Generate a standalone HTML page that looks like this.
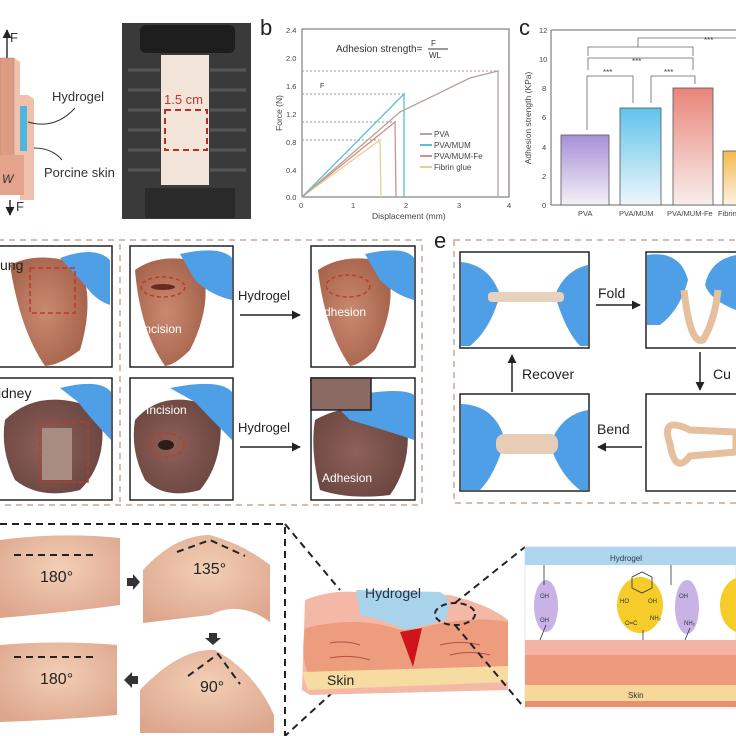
<!DOCTYPE html>
<html><head><meta charset="utf-8"><style>
html,body{margin:0;padding:0;background:#fff}
svg{display:block}
text{font-family:"Liberation Sans",Arial,sans-serif}
</style></head><body>
<svg width="736" height="736" viewBox="0 0 736 736" xmlns="http://www.w3.org/2000/svg">
<defs>
<linearGradient id="gp" x1="0" y1="0" x2="0" y2="1"><stop offset="0" stop-color="#a88fd6"/><stop offset="1" stop-color="#f3f0f6"/></linearGradient>
<linearGradient id="gb" x1="0" y1="0" x2="0" y2="1"><stop offset="0" stop-color="#5fc3ec"/><stop offset="1" stop-color="#eef6fa"/></linearGradient>
<linearGradient id="gr" x1="0" y1="0" x2="0" y2="1"><stop offset="0" stop-color="#e9857a"/><stop offset="1" stop-color="#f8eeec"/></linearGradient>
<linearGradient id="gy" x1="0" y1="0" x2="0" y2="1"><stop offset="0" stop-color="#f4b94e"/><stop offset="1" stop-color="#fbf3e4"/></linearGradient>
<radialGradient id="lung" cx="0.45" cy="0.5" r="0.6"><stop offset="0" stop-color="#c98a70"/><stop offset="1" stop-color="#a5614a"/></radialGradient>
<radialGradient id="kid" cx="0.45" cy="0.5" r="0.6"><stop offset="0" stop-color="#8e6158"/><stop offset="1" stop-color="#6a4540"/></radialGradient>
<radialGradient id="fing" cx="0.5" cy="0.4" r="0.7"><stop offset="0" stop-color="#f2cfb5"/><stop offset="1" stop-color="#dca58c"/></radialGradient>
<marker id="ah" viewBox="0 0 10 10" refX="9" refY="5" markerWidth="6" markerHeight="6" orient="auto"><path d="M0,0 L10,5 L0,10 z" fill="#222"/></marker>
</defs>

<!-- ===== a: schematic ===== -->
<line x1="7" y1="60" x2="7" y2="30" stroke="#333" stroke-width="1.5" marker-end="url(#ah)"/>
<text x="10" y="42" font-size="13" fill="#333">F</text>
<polygon points="0,58 14,58 20,62 20,160 0,160" fill="#e2a48b"/>
<polygon points="14,58 20,62 20,160 14,158" fill="#f0c2ad"/>
<rect x="0" y="58" width="14" height="100" fill="#dc9c84" stroke="#b77a66" stroke-width="0.5"/>
<polygon points="20,95 28,95 34,99 34,200 20,200" fill="#efc0ac"/>
<rect x="20" y="106" width="7" height="45" fill="#4fb5dd"/>
<rect x="0" y="155" width="24" height="40" fill="#e3a48b"/>
<text x="2" y="183" font-size="12" font-style="italic" fill="#333">W</text>
<line x1="10" y1="200" x2="10" y2="215" stroke="#333" stroke-width="1.5" marker-end="url(#ah)"/>
<text x="16" y="211" font-size="13" fill="#333">F</text>
<text x="52" y="101" font-size="13" fill="#333">Hydrogel</text>
<path d="M28,122 Q55,130 75,108" fill="none" stroke="#333" stroke-width="1"/>
<text x="44" y="177" font-size="13" fill="#333">Porcine skin</text>
<path d="M34,148 Q52,148 62,160" fill="none" stroke="#333" stroke-width="1"/>

<!-- photo -->
<rect x="122" y="23" width="129" height="196" fill="#3a3a3a"/>
<rect x="140" y="25" width="95" height="28" rx="6" fill="#1e1e1e"/>
<g stroke="#555" stroke-width="3">
<line x1="128" y1="70" x2="160" y2="70"/><line x1="128" y1="90" x2="160" y2="90"/><line x1="128" y1="110" x2="160" y2="110"/><line x1="128" y1="130" x2="160" y2="130"/><line x1="128" y1="150" x2="160" y2="150"/><line x1="128" y1="170" x2="160" y2="170"/>
<line x1="210" y1="70" x2="246" y2="70"/><line x1="210" y1="90" x2="246" y2="90"/><line x1="210" y1="110" x2="246" y2="110"/><line x1="210" y1="130" x2="246" y2="130"/><line x1="210" y1="150" x2="246" y2="150"/><line x1="210" y1="170" x2="246" y2="170"/>
</g>
<rect x="161" y="55" width="48" height="130" fill="#f3e4da"/>
<rect x="145" y="188" width="90" height="30" fill="#2a2a2a"/>
<rect x="165" y="110" width="42" height="40" fill="none" stroke="#b3302a" stroke-width="2" stroke-dasharray="6,4"/>
<text x="164" y="104" font-size="13" fill="#c0392b">1.5 cm</text>

<!-- ===== b chart ===== -->
<text x="260" y="35" font-size="22" fill="#222">b</text>
<rect x="302" y="29" width="207" height="168" fill="none" stroke="#666" stroke-width="1"/>
<g font-size="7.5" fill="#444">
<text x="286" y="33">2.4</text><text x="286" y="61">2.0</text><text x="286" y="89">1.6</text><text x="286" y="117">1.2</text><text x="286" y="145">0.8</text><text x="286" y="173">0.4</text><text x="286" y="200">0.0</text>
<text x="299" y="208">0</text><text x="351" y="208">1</text><text x="404" y="208">2</text><text x="457" y="208">3</text><text x="507" y="208">4</text>
</g>
<text transform="translate(282,113) rotate(-90)" text-anchor="middle" font-size="8.5" fill="#444">Force (N)</text>
<text x="372" y="219" font-size="8.5" fill="#444">Displacement (mm)</text>
<text x="336" y="52" font-size="10" fill="#333">Adhesion strength=</text>
<text x="431" y="46" font-size="8" fill="#333">F</text><line x1="428" y1="49" x2="448" y2="49" stroke="#333"/><text x="429" y="58" font-size="8" fill="#333">WL</text>
<text x="320" y="88" font-size="7" fill="#333">F</text>
<g stroke="#999" stroke-dasharray="2,2" stroke-width="1">
<line x1="302" y1="71" x2="498" y2="71"/><line x1="302" y1="94" x2="404" y2="94"/><line x1="302" y1="122" x2="396" y2="122"/><line x1="302" y1="140" x2="380" y2="140"/>
</g>
<polyline points="302,197 404,94 404,197" fill="none" stroke="#5bc0cf" stroke-width="1.3"/>
<polyline points="302,197 395,122 396,197" fill="none" stroke="#d48d8a" stroke-width="1.3"/>
<polyline points="302,197 380,140 381,197" fill="none" stroke="#e6cf94" stroke-width="1.3"/>
<polyline points="302,197 400,112 470,78 498,71 498,197" fill="none" stroke="#b7a19c" stroke-width="1.3"/>
<g font-size="8" fill="#444">
<line x1="420" y1="134" x2="432" y2="134" stroke="#b7a19c" stroke-width="2"/><text x="434" y="137">PVA</text>
<line x1="420" y1="145" x2="432" y2="145" stroke="#5bc0cf" stroke-width="2"/><text x="434" y="148">PVA/MUM</text>
<line x1="420" y1="156" x2="432" y2="156" stroke="#d48d8a" stroke-width="2"/><text x="434" y="159">PVA/MUM-Fe</text>
<line x1="420" y1="167" x2="432" y2="167" stroke="#e6cf94" stroke-width="2"/><text x="434" y="170">Fibrin glue</text>
</g>

<!-- ===== c chart ===== -->
<text x="519" y="35" font-size="22" fill="#222">c</text>
<line x1="551" y1="30" x2="551" y2="205" stroke="#666"/><line x1="551" y1="205" x2="736" y2="205" stroke="#666"/><line x1="551" y1="30" x2="736" y2="30" stroke="#666"/>
<g font-size="7.5" fill="#444">
<text x="539" y="33">12</text><text x="539" y="62">10</text><text x="542" y="91">8</text><text x="542" y="120">6</text><text x="542" y="150">4</text><text x="542" y="179">2</text><text x="542" y="208">0</text>
<text x="578" y="216">PVA</text><text x="619" y="216">PVA/MUM</text><text x="667" y="216">PVA/MUM-Fe</text><text x="718" y="216">Fibrin</text>
</g>
<text transform="translate(531,118) rotate(-90)" text-anchor="middle" font-size="8.5" fill="#444">Adhesion strength (KPa)</text>
<rect x="561" y="135" width="48" height="70" fill="url(#gp)" stroke="#555" stroke-width="0.8"/>
<rect x="620" y="108" width="41" height="97" fill="url(#gb)" stroke="#555" stroke-width="0.8"/>
<rect x="673" y="88" width="40" height="117" fill="url(#gr)" stroke="#555" stroke-width="0.8"/>
<rect x="723" y="151" width="20" height="54" fill="url(#gy)" stroke="#555" stroke-width="0.8"/>
<g fill="none" stroke="#666" stroke-width="0.8">
<polyline points="587,130 587,76 633,76 633,103"/>
<polyline points="651,103 651,76 695,76 695,84"/>
<polyline points="588,70 588,58 693,58 693,70"/>
<polyline points="588,56 588,47 693,47 693,56"/>
<polyline points="638,47 638,38 736,38"/>
</g>
<g font-size="8" fill="#444"><text x="603" y="75">***</text><text x="664" y="75">***</text><text x="632" y="64">***</text><text x="704" y="43">***</text></g>

<!-- ===== d panel ===== -->
<rect x="-2" y="240" width="424" height="265" fill="none" stroke="#c9a79b" stroke-width="1.5" stroke-dasharray="6,5"/>
<line x1="120" y1="244" x2="120" y2="502" stroke="#c9a79b" stroke-width="1.5" stroke-dasharray="6,5"/>
<!-- row1 -->
<rect x="-1" y="246" width="113" height="121" fill="#fff" stroke="#222" stroke-width="1.5"/>
<path d="M10,265 Q40,250 80,265 Q95,300 80,350 Q60,365 45,366 Q20,330 10,265z" fill="url(#lung)"/>
<path d="M60,258 Q95,245 110,260 L110,305 Q95,300 85,285z" fill="#4f9fe6"/>
<rect x="30" y="268" width="45" height="45" fill="none" stroke="#c0392b" stroke-width="1.5" stroke-dasharray="5,3"/>
<text x="0" y="270" font-size="14" fill="#222">ung</text>
<rect x="130" y="246" width="103" height="121" fill="#fff" stroke="#222" stroke-width="1.5"/>
<path d="M135,270 Q160,252 200,262 Q215,300 190,350 Q175,365 165,366 Q140,330 135,270z" fill="url(#lung)"/>
<path d="M180,254 Q220,245 232,258 L232,300 Q210,295 195,280z" fill="#4f9fe6"/>
<ellipse cx="163" cy="287" rx="22" ry="10" fill="none" stroke="#c0392b" stroke-width="1.5" stroke-dasharray="4,3"/>
<ellipse cx="163" cy="287" rx="12" ry="3" fill="#6b2a20"/>
<text x="141" y="333" font-size="12" fill="#fff">Incision</text>
<rect x="311" y="246" width="104" height="121" fill="#fff" stroke="#222" stroke-width="1.5"/>
<path d="M318,270 Q345,252 385,262 Q400,300 375,350 Q360,365 350,366 Q325,330 318,270z" fill="url(#lung)"/>
<path d="M365,254 Q405,245 414,258 L414,300 Q395,295 380,280z" fill="#4f9fe6"/>
<ellipse cx="348" cy="286" rx="22" ry="11" fill="none" stroke="#c0392b" stroke-width="1.5" stroke-dasharray="4,3"/>
<text x="316" y="316" font-size="12" fill="#fff">Adhesion</text>
<text x="238" y="300" font-size="13" fill="#222">Hydrogel</text>
<line x1="240" y1="315" x2="300" y2="315" stroke="#222" stroke-width="1.5" marker-end="url(#ah)"/>
<!-- row2 -->
<rect x="-1" y="378" width="113" height="122" fill="#fff" stroke="#222" stroke-width="1.5"/>
<path d="M5,420 Q40,385 100,410 Q110,460 80,490 Q40,500 15,480 Q0,450 5,420z" fill="url(#kid)"/>
<path d="M60,388 Q100,378 111,392 L111,440 Q92,420 78,402z" fill="#4f9fe6"/>
<rect x="42" y="428" width="30" height="52" fill="#a98c80"/>
<rect x="40" y="422" width="48" height="60" fill="none" stroke="#c0392b" stroke-width="1.5" stroke-dasharray="5,3"/>
<text x="-2" y="398" font-size="14" fill="#222">idney</text>
<rect x="130" y="378" width="103" height="122" fill="#fff" stroke="#222" stroke-width="1.5"/>
<path d="M135,420 Q165,385 220,410 Q225,460 200,490 Q165,500 145,480 Q130,450 135,420z" fill="url(#kid)"/>
<path d="M170,388 Q220,378 232,392 L232,440 Q212,420 195,402z" fill="#4f9fe6"/>
<ellipse cx="166" cy="445" rx="18" ry="12" fill="none" stroke="#c0392b" stroke-width="1.5" stroke-dasharray="4,3"/>
<ellipse cx="166" cy="445" rx="8" ry="5" fill="#2e1a16"/>
<text x="146" y="414" font-size="12" fill="#fff">Incision</text>
<rect x="311" y="378" width="104" height="122" fill="#fff" stroke="#222" stroke-width="1.5"/>
<path d="M315,420 Q350,400 405,410 Q415,460 390,495 Q350,500 320,490 Q310,450 315,420z" fill="url(#kid)"/>
<path d="M330,400 Q400,385 414,395 L414,440 Q385,430 350,420z" fill="#4f9fe6"/>
<rect x="311" y="378" width="60" height="32" fill="#8a6a62" stroke="#222" stroke-width="1.5"/>
<text x="322" y="482" font-size="12" fill="#fff">Adhesion</text>
<text x="238" y="432" font-size="13" fill="#222">Hydrogel</text>
<line x1="240" y1="447" x2="300" y2="447" stroke="#222" stroke-width="1.5" marker-end="url(#ah)"/>

<!-- ===== e panel ===== -->
<text x="434" y="248" font-size="22" fill="#222">e</text>
<rect x="454" y="240" width="290" height="263" fill="none" stroke="#c9a79b" stroke-width="1.5" stroke-dasharray="6,5"/>
<rect x="460" y="252" width="129" height="96" fill="#fff" stroke="#222" stroke-width="1.5"/>
<path d="M461,262 Q490,265 500,295 Q490,330 470,346 L461,346z" fill="#4f9fe6"/>
<path d="M588,265 Q565,270 555,295 Q565,330 580,346 L588,346z" fill="#4f9fe6"/>
<rect x="488" y="292" width="76" height="10" rx="4" fill="#e8d2bd"/>
<rect x="646" y="252" width="95" height="96" fill="#fff" stroke="#222" stroke-width="1.5"/>
<path d="M647,255 Q680,250 688,280 Q680,310 660,325 L647,325z" fill="#4f9fe6"/>
<path d="M736,255 Q710,260 705,285 Q710,300 736,310z" fill="#4f9fe6"/>
<path d="M684,290 Q690,345 703,340 Q715,320 718,290" fill="none" stroke="#e6bf9f" stroke-width="7"/>
<rect x="460" y="394" width="129" height="97" fill="#fff" stroke="#222" stroke-width="1.5"/>
<path d="M461,404 Q495,405 505,440 Q495,475 480,490 L461,490z" fill="#4f9fe6"/>
<path d="M588,410 Q560,415 550,445 Q560,475 580,490 L588,490z" fill="#4f9fe6"/>
<rect x="496" y="434" width="62" height="20" rx="8" fill="#e7cdb6"/>
<rect x="646" y="394" width="95" height="97" fill="#fff" stroke="#222" stroke-width="1.5"/>
<path d="M670,444 Q660,415 690,430 L736,432 L736,452 L690,456 Q675,475 670,444z" fill="none" stroke="#e6bf9f" stroke-width="7"/>
<text x="598" y="298" font-size="14" fill="#222">Fold</text>
<line x1="596" y1="305" x2="640" y2="305" stroke="#222" stroke-width="1.5" marker-end="url(#ah)"/>
<text x="522" y="379" font-size="14" fill="#222">Recover</text>
<line x1="512" y1="392" x2="512" y2="355" stroke="#222" stroke-width="1.5" marker-end="url(#ah)"/>
<text x="713" y="379" font-size="14" fill="#222">Cu</text>
<line x1="700" y1="352" x2="700" y2="390" stroke="#222" stroke-width="1.5" marker-end="url(#ah)"/>
<text x="597" y="434" font-size="14" fill="#222">Bend</text>
<line x1="642" y1="447" x2="598" y2="447" stroke="#222" stroke-width="1.5" marker-end="url(#ah)"/>

<!-- ===== bottom fingers ===== -->
<polyline points="0,524 285,524 285,736" fill="none" stroke="#222" stroke-width="2" stroke-dasharray="7,5"/>
<path d="M0,540 Q60,532 120,538 L120,605 Q70,612 0,618z" fill="url(#fing)"/>
<line x1="14" y1="555" x2="96" y2="555" stroke="#222" stroke-width="2" stroke-dasharray="7,5"/>
<text x="40" y="582" font-size="16" fill="#222">180°</text>
<path d="M143,570 Q175,535 210,535 Q245,545 270,565 L270,622 Q240,600 210,615 L143,623z" fill="url(#fing)"/>
<polyline points="177,552 210,540 245,556" fill="none" stroke="#222" stroke-width="2" stroke-dasharray="7,5"/>
<text x="193" y="574" font-size="16" fill="#222">135°</text>
<path d="M0,645 Q60,640 117,645 L117,715 Q60,720 0,722z" fill="url(#fing)"/>
<line x1="14" y1="657" x2="96" y2="657" stroke="#222" stroke-width="2" stroke-dasharray="7,5"/>
<text x="40" y="684" font-size="16" fill="#222">180°</text>
<path d="M140,690 Q180,648 215,650 Q255,672 274,715 L274,733 L140,733z" fill="url(#fing)"/>
<polyline points="188,676 218,654 240,684" fill="none" stroke="#222" stroke-width="2" stroke-dasharray="7,5"/>
<text x="200" y="692" font-size="16" fill="#222">90°</text>
<polygon points="127,578 133,578 133,574 140,582 133,590 133,586 127,586" fill="#333"/>
<polygon points="209,633 217,633 217,638 221,638 213,645 205,638 209,638" fill="#333"/>
<polygon points="138,676 132,676 132,672 124,680 132,688 132,684 138,684" fill="#333"/>

<!-- skin diagram -->
<line x1="285" y1="524" x2="340" y2="590" stroke="#222" stroke-width="2" stroke-dasharray="7,5"/>
<line x1="333" y1="692" x2="285" y2="736" stroke="#222" stroke-width="2" stroke-dasharray="7,5"/>
<path d="M305,600 Q330,590 355,592 L450,595 Q490,605 508,620 L508,690 L310,695 L302,690z" fill="#f3b9a6"/>
<path d="M305,628 Q360,615 400,630 L420,628 Q470,615 508,622 L508,670 L310,678 Q300,660 305,628z" fill="#ee9c7e"/>
<path d="M302,672 L508,666 L508,682 L308,690z" fill="#f6dca0"/>
<path d="M356,590 L440,592 Q455,600 445,620 Q420,627 405,630 Q385,620 360,615z" fill="#a9d3ea"/>
<polygon points="400,632 422,628 413,667" fill="#d0141d"/>
<g stroke="#b2504a" stroke-width="1" fill="none">
<path d="M330,643 Q345,640 360,645"/><path d="M440,645 Q460,640 480,645"/><path d="M330,658 Q350,654 370,660"/><path d="M450,655 Q470,650 490,655"/>
</g>
<text x="365" y="598" font-size="14" fill="#234">Hydrogel</text>
<text x="327" y="685" font-size="14" fill="#222">Skin</text>
<ellipse cx="455" cy="614" rx="20" ry="11" fill="none" stroke="#222" stroke-width="2" stroke-dasharray="6,4"/>
<line x1="455" y1="603" x2="525" y2="547" stroke="#222" stroke-width="2" stroke-dasharray="7,5"/>
<line x1="455" y1="625" x2="522" y2="705" stroke="#222" stroke-width="2" stroke-dasharray="7,5"/>

<!-- right molecular panel -->
<rect x="525" y="547" width="211" height="161" fill="#fff" stroke="#bcd" stroke-width="0.5"/>
<rect x="525" y="547" width="211" height="18" fill="#aed6ee"/>
<text x="610" y="561" font-size="8" fill="#334">Hydrogel</text>
<rect x="525" y="640" width="211" height="15" fill="#f5b4a3"/>
<rect x="525" y="655" width="211" height="30" fill="#ee9a7c"/>
<rect x="525" y="685" width="211" height="16" fill="#f6d89b"/>
<rect x="525" y="701" width="211" height="6" fill="#e9906f"/>
<text x="628" y="698" font-size="8" fill="#333">Skin</text>
<ellipse cx="546" cy="606" rx="12" ry="26" fill="#c8b2e6"/>
<ellipse cx="640" cy="605" rx="23" ry="28" fill="#f5cc2a"/>
<ellipse cx="687" cy="607" rx="12" ry="27" fill="#c8b2e6"/>
<ellipse cx="742" cy="605" rx="22" ry="28" fill="#f5cc2a"/>
<g stroke="#333" stroke-width="0.8" fill="none">
<line x1="544" y1="565" x2="544" y2="585"/><line x1="546" y1="625" x2="540" y2="640"/>
<line x1="671" y1="565" x2="671" y2="585"/><line x1="690" y1="628" x2="685" y2="640"/>
<polygon points="632,577 642,572 652,577 652,588 642,593 632,588"/>
<line x1="643" y1="630" x2="643" y2="640"/>
</g>
<g font-size="6" fill="#333">
<text x="540" y="598">OH</text><text x="540" y="622">OH</text>
<text x="620" y="603">HO</text><text x="648" y="603">OH</text><text x="625" y="625">O=C</text><text x="650" y="620">NH₂</text>
<text x="679" y="598">OH</text><text x="684" y="625">NH₂</text>
</g>
</svg>
</body></html>
